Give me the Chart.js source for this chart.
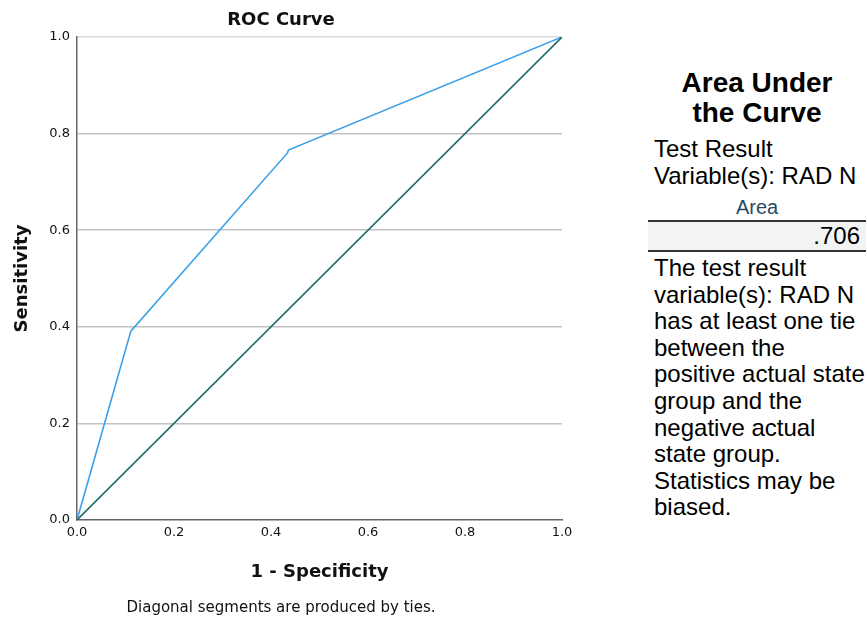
<!DOCTYPE html>
<html>
<head>
<meta charset="utf-8">
<script src="https://cdn.jsdelivr.net/npm/chart.js@4/dist/chart.umd.min.js"></script>
<style>
  body { margin: 0; background: #fff; }
  #wrap { position: absolute; left: 0; top: 0; width: 600px; height: 622px; }
  #auc { position: absolute; left: 648px; top: 0; width: 218px; height: 622px;
         font-family: "Liberation Sans", Arial, sans-serif; color: #000; }
  #auc div { position: absolute; white-space: nowrap; }
  .ttl { top: 68px; left: 0; width: 218px; text-align: center; font-weight: bold; font-size: 28px; line-height: 30px; }
  .sub { top: 136px; left: 6px; font-size: 24px; line-height: 26.7px; }
  .hdr { top: 195px; left: 0; width: 218px; text-align: center; font-size: 20px; line-height: 24px; color: #264a60; }
  .rule { left: 0; width: 218px; height: 2px; background: #333; }
  .band { top: 222px; left: 0; width: 218px; height: 28px; background: #f2f4f4; }
  .val { top: 222px; right: 6px; font-size: 24px; line-height: 28px; }
  .note { top: 255px; left: 6px; font-size: 24px; line-height: 26.6px; }
</style>
</head>
<body>
<div id="wrap"><canvas id="roc"></canvas></div>
<div id="auc">
  <div class="ttl">Area Under<br>the Curve</div>
  <div class="sub">Test Result<br>Variable(s): RAD N</div>
  <div class="hdr">Area</div>
  <div class="rule" style="top:220px"></div>
  <div class="band"></div>
  <div class="val" id="aucVal"></div>
  <div class="rule" style="top:250px"></div>
  <div class="note">The test result<br>variable(s): RAD N<br>has at least one tie<br>between the<br>positive actual state<br>group and the<br>negative actual<br>state group.<br>Statistics may be<br>biased.</div>
</div>
<script>
// ROC curve points
const fpr = [0, 0.111, 0.434, 0.436, 1];
const tpr = [0, 0.391, 0.760, 0.766, 1];
// reference diagonal
const refX = [0, 1];
const refY = [0, 1];
const axisTicks = [0, 0.2, 0.4, 0.6, 0.8, 1.0];
const areaValue = '.706';

document.getElementById('aucVal').textContent = areaValue;

function toPoints(xs, ys) {
    return xs.map((x, i) => ({ x: x, y: ys[i] }));
}

const font = 'DejaVu Sans';

new Chart(document.getElementById('roc'), {
    type: 'scatter',
    data: {
        datasets: [{
            data: toPoints(refX, refY),
            showLine: true,
            borderColor: '#226f6c',
            borderWidth: 1.6,
            pointRadius: 0
        }, {
            data: toPoints(fpr, tpr),
            showLine: true,
            borderColor: '#3aa0ea',
            borderWidth: 1.6,
            pointRadius: 0
        }]
    },
    options: {
        responsive: true,
        maintainAspectRatio: false,
        animation: false,
        layout: { padding: { left: 0, right: 38, top: 0, bottom: 0 } },
        plugins: {
            legend: { display: false },
            tooltip: { enabled: false },
            title: {
                display: true,
                text: 'ROC Curve',
                color: '#111',
                font: { family: font, size: 18, weight: 'bold' },
                padding: { top: 9.2, bottom: 6.2 }
            },
            subtitle: {
                display: true,
                position: 'bottom',
                text: 'Diagonal segments are produced by ties.',
                color: '#111',
                font: { family: font, size: 15 },
                padding: { top: 12.2, bottom: 5 }
            }
        },
        scales: {
            x: {
                type: 'linear',
                min: 0,
                max: 1,
                afterBuildTicks: s => { s.ticks = axisTicks.map(v => ({ value: v })); },
                ticks: {
                    padding: 5.2,
                    color: '#111',
                    font: { family: font, size: 13 },
                    callback: v => v.toFixed(1)
                },
                grid: { display: false, drawTicks: false, tickLength: 0 },
                border: { display: true, color: '#666', width: 1.5 },
                title: {
                    display: true,
                    text: '1 - Specificity',
                    color: '#111',
                    font: { family: font, size: 18, weight: 'bold' },
                    padding: { top: 15.2, bottom: 4 }
                }
            },
            y: {
                type: 'linear',
                min: 0,
                max: 1,
                afterBuildTicks: s => { s.ticks = axisTicks.map(v => ({ value: v })); },
                afterFit: s => { s.width = 77; },
                ticks: {
                    padding: 7,
                    color: '#111',
                    font: { family: font, size: 13 },
                    callback: v => v.toFixed(1)
                },
                grid: {
                    drawTicks: false,
                    tickLength: 0,
                    lineWidth: 1.5,
                    color: ctx => {
                        const v = ctx.tick ? ctx.tick.value : 0;
                        if (v === 0) return 'rgba(0,0,0,0)';
                        if (v === 1) return '#dedede';
                        return '#c2c2c2';
                    }
                },
                border: { display: true, color: '#666', width: 1.5 },
                title: {
                    display: true,
                    text: 'Sensitivity',
                    color: '#111',
                    font: { family: font, size: 18, weight: 'bold' },
                    padding: { top: 11.7, bottom: 0 }
                }
            }
        }
    }
});
</script>
</body>
</html>
